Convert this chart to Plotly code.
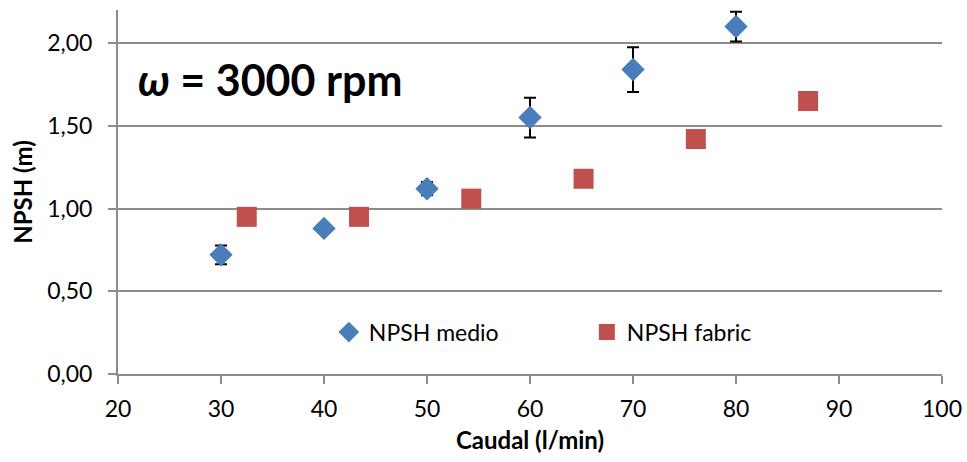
import plotly.graph_objects as go

# Measured NPSH (mean with error) and manufacturer curve
caudal_medio = [30, 40, 50, 60, 70, 80]
npsh_medio = [0.72, 0.88, 1.12, 1.55, 1.84, 2.10]
npsh_error = [0.056, 0.02, 0.04, 0.12, 0.135, 0.09]

caudal_fabric = [32.5, 43.4, 54.3, 65.2, 76.1, 87.0]
npsh_fabric = [0.95, 0.95, 1.06, 1.18, 1.42, 1.65]

x_ticks = [20, 30, 40, 50, 60, 70, 80, 90, 100]
y_ticks = [0.0, 0.5, 1.0, 1.5, 2.0]

FONT = "Lato"
GRID = "#8c8c8c"

fig = go.Figure()
fig.add_trace(go.Scatter(
    x=caudal_medio, y=npsh_medio, mode="markers", name="NPSH medio",
    marker=dict(symbol="diamond", size=18, color="#4a7ebb"),
    error_y=dict(type="data", array=npsh_error, visible=True,
                 color="black", thickness=2, width=6),
))
fig.add_trace(go.Scatter(
    x=caudal_fabric, y=npsh_fabric, mode="markers", name="NPSH fabric",
    marker=dict(symbol="square", size=20, color="#c0504d"),
))

fig.add_annotation(
    text="<i>ω</i> = 3000 rpm", xref="paper", yref="paper",
    x=0.022, y=0.81, xanchor="left", yanchor="middle", showarrow=False,
    font=dict(family=FONT, size=43, color="black", weight="bold"),
)

fig.update_layout(
    width=967, height=462,
    margin=dict(l=118, r=25, t=10, b=88),
    paper_bgcolor="white", plot_bgcolor="white",
    separators=",.",
    font=dict(family=FONT, size=22, color="black"),
    showlegend=True,
    legend=dict(orientation="h", x=0.569, y=0.115, xanchor="center",
                yanchor="middle", font=dict(family=FONT, size=23),
                bgcolor="rgba(0,0,0,0)", itemwidth=30, tracegroupgap=0,
                entrywidthmode="pixels", entrywidth=213),
)
fig.update_xaxes(
    range=[20, 100], tickvals=x_ticks, showgrid=False, automargin=False,
    showline=True, linecolor=GRID, linewidth=2,
    ticks="outside", ticklen=8, tickcolor=GRID, tickwidth=1.5,
    tickfont=dict(family=FONT, size=23), ticklabelstandoff=5,
    title=dict(text="<b>Caudal (l/min)</b>", font=dict(family=FONT, size=24),
               standoff=12),
    zeroline=False,
)
fig.update_yaxes(
    range=[0, 2.2], tickvals=y_ticks, tickformat=".2f",
    showgrid=True, gridcolor=GRID, gridwidth=2,
    showline=True, linecolor=GRID, linewidth=2,
    ticks="outside", ticklen=8, tickcolor=GRID, tickwidth=1.5,
    tickfont=dict(family=FONT, size=23), ticklabelstandoff=11,
    title=dict(text="<b>NPSH (m)</b>", font=dict(family=FONT, size=24),
               standoff=8),
    zeroline=False,
)

fig.write_html("out.html")
